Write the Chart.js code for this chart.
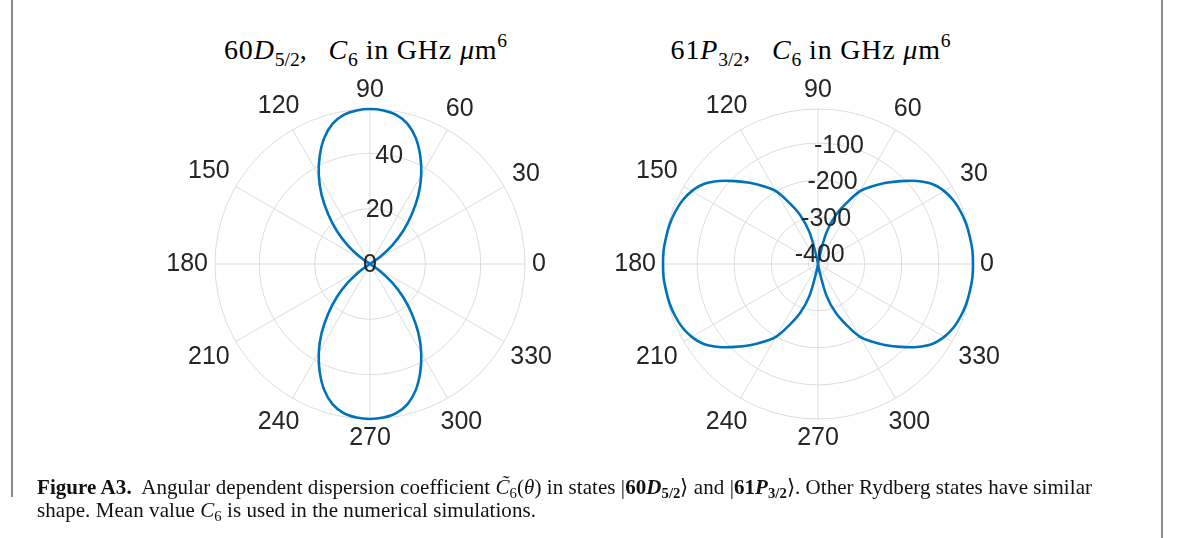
<!DOCTYPE html>
<html><head><meta charset="utf-8">
<script src="https://cdn.jsdelivr.net/npm/chart.js@4/dist/chart.umd.min.js"></script>
<style>
html,body{margin:0;padding:0;background:#fff;}
body{width:1179px;height:538px;position:relative;overflow:hidden;}
canvas.pc{position:absolute;}
.title{position:absolute;top:36px;font-family:"Liberation Serif","DejaVu Serif",serif;font-size:28px;letter-spacing:0.8px;color:#000;white-space:nowrap;transform:translateX(-50%);line-height:1;}
.title sub{font-size:0.7em;vertical-align:-0.35em;line-height:0;letter-spacing:0;}
.title sup{font-size:0.7em;vertical-align:0.6em;line-height:0;}
.title .gap{display:inline-block;width:0.75em;}
.vl{position:absolute;background:#8c8c8c;width:2px;top:0;}
.cap{position:absolute;left:37px;top:476px;font-family:"Liberation Serif",serif;font-size:21px;letter-spacing:0.06px;line-height:23px;color:#111;white-space:nowrap;}
.cap sub{font-size:0.7em;vertical-align:-0.3em;line-height:0;}
</style>
</head><body>
<div class="vl" style="left:11px;height:497px;"></div>
<div class="vl" style="left:1161px;height:538px;"></div>
<div class="title" style="left:366px;">60<i>D</i><sub>5/2</sub>,<span class="gap"></span><i>C</i><sub>6</sub> in GHz <i>μ</i>m<sup>6</sup></div>
<div class="title" style="left:811px;">61<i>P</i><sub>3/2</sub>,<span class="gap"></span><i>C</i><sub>6</sub> in GHz <i>μ</i>m<sup>6</sup></div>
<canvas id="c1" class="pc" width="430" height="430" style="left:155px;top:49px;"></canvas>
<canvas id="c2" class="pc" width="430" height="430" style="left:603px;top:49px;"></canvas>
<div class="cap"><b>Figure A3.</b>&nbsp; Angular dependent dispersion coefficient <i>C̃</i><sub>6</sub>(<i>θ</i>) in states |<b>60<i>D</i></b><sub><b>5/2</b></sub>⟩ and |<b>61<i>P</i></b><sub><b>3/2</b></sub>⟩. Other Rydberg states have similar<br>shape. Mean value <i>C</i><sub>6</sub> is used in the numerical simulations.</div>
<script>
// polar angle of each sample, degrees (counter-clockwise from the right)
const angleDeg = [0,5,10,15,20,25,30,35,40,45,50,55,60,65,70,75,80,85,90,95,100,105,110,115,120,125,130,135,140,145,150,155,160,165,170,175,
  180,185,190,195,200,205,210,215,220,225,230,235,240,245,250,255,260,265,270,275,280,285,290,295,300,305,310,315,320,325,330,335,340,345,350,355];
// 60D5/2 : C6 in GHz um^6
const c6D = [0,0,0,0,0,0,0,4.5,10.5,17,23.5,30.5,37,43,48.4,52.4,54.7,55.7,56,55.7,54.7,52.4,48.4,43,37,30.5,23.5,17,10.5,4.5,0,0,0,0,0,0,
  0,0,0,0,0,0,0,4.5,10.5,17,23.5,30.5,37,43,48.4,52.4,54.7,55.7,56,55.7,54.7,52.4,48.4,43,37,30.5,23.5,17,10.5,4.5,0,0,0,0,0,0];
// 61P3/2 : C6 in GHz um^6
const c6P = [-8,-8,-10,-12,-16,-22,-33,-50,-78,-110,-140,-170,-199,-245,-286,-337,-412,-426,-426,-426,-412,-337,-286,-245,-199,-170,-140,-110,-78,-50,-33,-22,-16,-12,-10,-8,
  -8,-8,-10,-12,-16,-22,-33,-50,-78,-110,-140,-170,-199,-245,-286,-337,-412,-426,-426,-426,-412,-337,-286,-245,-199,-170,-140,-110,-78,-50,-33,-22,-16,-12,-10,-8];
const thetaTickLabels = [0,30,60,90,120,150,180,210,240,270,300,330];
const rTicksD = [0,20,40];
const rTicksP = [-400,-300,-200,-100];
const rLimD = [0,56];
const rLimP = [-426,-8];
const rAxisAngle = 80;

const N = angleDeg.length;
// Chart.js radar runs clockwise; reverse the order so angles increase counter-clockwise
const drawIdx = angleDeg.map((_, i) => (N - i) % N);
const drawLabels = drawIdx.map(j => angleDeg[j]);
const idxOf = a => drawLabels.indexOf(a);

const FONT = '25px "Liberation Sans", Arial, sans-serif';
const labelPlugin = {
  id: 'polarLabels',
  afterDraw(chart, args, opts) {
    const s = chart.scales.r, ctx = chart.ctx;
    ctx.save();
    ctx.font = FONT;
    ctx.fillStyle = '#262626';
    ctx.textAlign = 'center';
    ctx.textBaseline = 'middle';
    thetaTickLabels.forEach(a => {
      const t = String(a);
      const w = ctx.measureText(t).width;
      const rad = a * Math.PI / 180;
      const c = Math.abs(Math.cos(rad)), sn = Math.abs(Math.sin(rad));
      const d = s.drawingArea + 7 + 3 * sn + (w / 2) * c + 9 * sn;
      const p = s.getPointPosition(idxOf(a), d);
      ctx.fillText(t, p.x, p.y);
    });
    opts.ticks.forEach(v => {
      const p = s.getPointPositionForValue(idxOf(rAxisAngle), v);
      ctx.fillText(String(v), p.x, p.y + 1);
    });
    ctx.restore();
  }
};

function makeChart(id, values, lim, step, ticks) {
  return new Chart(document.getElementById(id), {
    type: 'radar',
    data: {
      labels: drawLabels,
      datasets: [{
        data: drawIdx.map(j => values[j]),
        borderColor: '#0072BD',
        borderWidth: 2.6,
        fill: false,
        pointRadius: 0,
        tension: 0.35
      }]
    },
    options: {
      responsive: false,
      animation: false,
      layout: { padding: 60 },
      plugins: { legend: { display: false }, tooltip: { enabled: false }, polarLabels: { ticks: ticks } },
      scales: {
        r: {
          min: lim[0], max: lim[1],
          startAngle: 90,
          ticks: { display: false, stepSize: step },
          pointLabels: { display: false },
          grid: { circular: true, color: '#dcdcdc', lineWidth: 1 },
          angleLines: {
            color: '#dcdcdc',
            lineWidth: ctx => (drawLabels[ctx.index] % 30 === 0 ? 1 : 0)
          }
        }
      }
    },
    plugins: [labelPlugin]
  });
}
makeChart('c1', c6D, rLimD, 20, rTicksD);
makeChart('c2', c6P, rLimP, 100, rTicksP);
</script>
</body></html>
